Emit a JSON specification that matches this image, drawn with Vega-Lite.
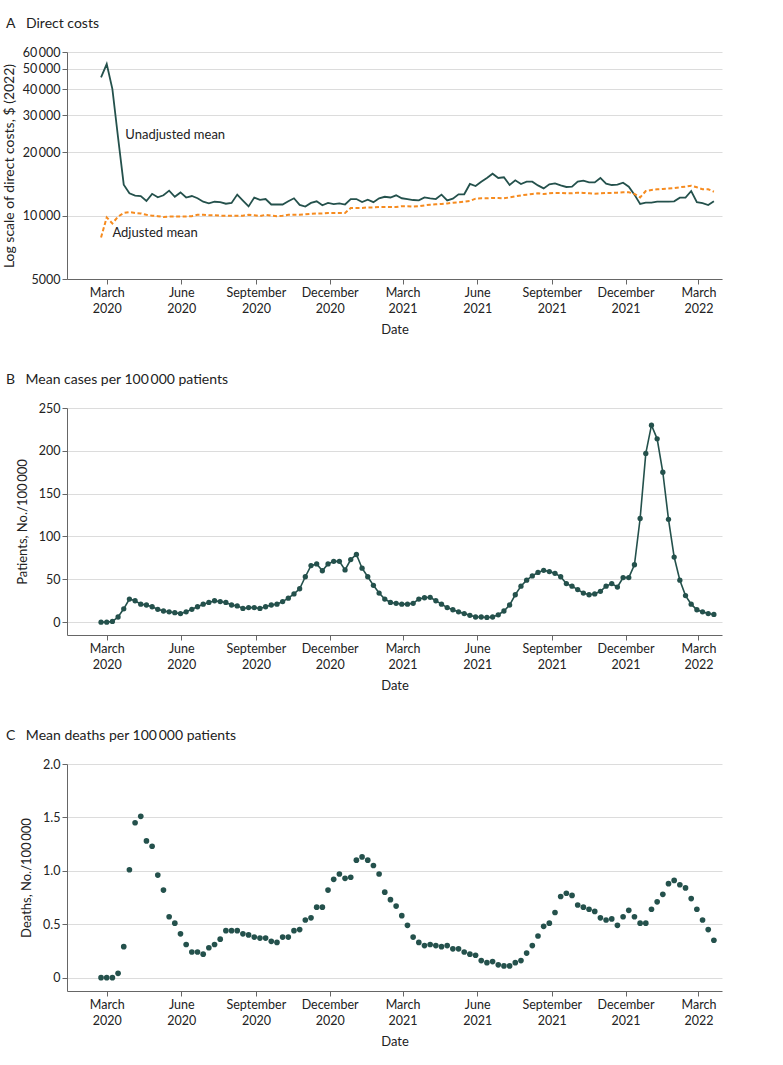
{
  "$schema": "https://vega.github.io/schema/vega-lite/v6.json",
  "padding": {"left": 2, "top": 17, "right": 5, "bottom": 5},
  "spacing": 36,
  "config": {
    "font": "Lato",
    "view": {"stroke": null},
    "axis": {"labelFont": "Lato", "titleFont": "Lato", "labelFontSize": 12.5, "titleFontSize": 13, "titleFontWeight": "normal", "labelColor": "#222222", "titleColor": "#222222", "domainColor": "#666666", "tickColor": "#666666", "gridColor": "#dcdcdc", "tickSize": 5},
    "title": {"anchor": "start", "frame": "group", "font": "Lato", "fontSize": 14, "fontWeight": "normal", "color": "#222222", "dx": -61, "offset": 15}
  },
  "data": {"values": [
    {"date":"2020-02-23","u":45500,"a":7880,"c":0,"d":0.00},
    {"date":"2020-03-01","u":52600,"a":9810,"c":0,"d":0.00},
    {"date":"2020-03-08","u":40000,"a":9190,"c":0.8,"d":0.00},
    {"date":"2020-03-15","u":23500,"a":9900,"c":6,"d":0.04},
    {"date":"2020-03-22","u":14040,"a":10300,"c":15.6,"d":0.29},
    {"date":"2020-03-29","u":12770,"a":10400,"c":27,"d":1.01},
    {"date":"2020-04-05","u":12450,"a":10300,"c":25,"d":1.45},
    {"date":"2020-04-12","u":12400,"a":10250,"c":21,"d":1.51},
    {"date":"2020-04-19","u":11740,"a":10100,"c":20,"d":1.28},
    {"date":"2020-04-26","u":12700,"a":10000,"c":18,"d":1.23},
    {"date":"2020-05-03","u":12220,"a":9950,"c":15,"d":0.96},
    {"date":"2020-05-10","u":12500,"a":9850,"c":13,"d":0.82},
    {"date":"2020-05-17","u":13150,"a":9900,"c":12,"d":0.57},
    {"date":"2020-05-24","u":12300,"a":9920,"c":11,"d":0.51},
    {"date":"2020-05-31","u":12900,"a":9920,"c":10,"d":0.41},
    {"date":"2020-06-07","u":12200,"a":9920,"c":12,"d":0.31},
    {"date":"2020-06-14","u":12400,"a":9950,"c":15,"d":0.24},
    {"date":"2020-06-21","u":12100,"a":10100,"c":18,"d":0.24},
    {"date":"2020-06-28","u":11650,"a":10100,"c":21,"d":0.22},
    {"date":"2020-07-05","u":11450,"a":10050,"c":23,"d":0.28},
    {"date":"2020-07-12","u":11650,"a":10050,"c":25,"d":0.31},
    {"date":"2020-07-19","u":11600,"a":10000,"c":24,"d":0.36},
    {"date":"2020-07-26","u":11400,"a":10000,"c":23,"d":0.44},
    {"date":"2020-08-02","u":11500,"a":10000,"c":20,"d":0.44},
    {"date":"2020-08-09","u":12600,"a":10000,"c":19,"d":0.44},
    {"date":"2020-08-16","u":11800,"a":10000,"c":16,"d":0.41},
    {"date":"2020-08-23","u":11070,"a":10100,"c":17,"d":0.40},
    {"date":"2020-08-30","u":12200,"a":10050,"c":17,"d":0.38},
    {"date":"2020-09-06","u":11900,"a":9950,"c":16,"d":0.37},
    {"date":"2020-09-13","u":12000,"a":10100,"c":18,"d":0.37},
    {"date":"2020-09-20","u":11300,"a":10000,"c":20,"d":0.34},
    {"date":"2020-09-27","u":11300,"a":9950,"c":21,"d":0.33},
    {"date":"2020-10-04","u":11300,"a":10000,"c":24,"d":0.38},
    {"date":"2020-10-11","u":11700,"a":10100,"c":28,"d":0.38},
    {"date":"2020-10-18","u":12100,"a":10100,"c":33,"d":0.44},
    {"date":"2020-10-25","u":11250,"a":10100,"c":39,"d":0.45},
    {"date":"2020-11-01","u":11050,"a":10150,"c":53,"d":0.54},
    {"date":"2020-11-08","u":11500,"a":10200,"c":66,"d":0.56},
    {"date":"2020-11-15","u":11700,"a":10250,"c":68,"d":0.66},
    {"date":"2020-11-22","u":11200,"a":10250,"c":60,"d":0.66},
    {"date":"2020-11-29","u":11500,"a":10300,"c":68,"d":0.82},
    {"date":"2020-12-06","u":11350,"a":10300,"c":71,"d":0.92},
    {"date":"2020-12-13","u":11450,"a":10300,"c":71,"d":0.97},
    {"date":"2020-12-20","u":11300,"a":10300,"c":61,"d":0.93},
    {"date":"2020-12-27","u":12000,"a":10870,"c":73,"d":0.94},
    {"date":"2021-01-03","u":12000,"a":10870,"c":79,"d":1.10},
    {"date":"2021-01-10","u":11600,"a":10870,"c":63,"d":1.13},
    {"date":"2021-01-17","u":11900,"a":10950,"c":53,"d":1.10},
    {"date":"2021-01-24","u":11600,"a":10950,"c":43,"d":1.05},
    {"date":"2021-01-31","u":12100,"a":11000,"c":34,"d":0.97},
    {"date":"2021-02-07","u":12300,"a":11000,"c":27,"d":0.80},
    {"date":"2021-02-14","u":12200,"a":11000,"c":23,"d":0.73},
    {"date":"2021-02-21","u":12500,"a":11000,"c":22,"d":0.67},
    {"date":"2021-02-28","u":12100,"a":11100,"c":21,"d":0.58},
    {"date":"2021-03-07","u":12000,"a":11100,"c":21,"d":0.49},
    {"date":"2021-03-14","u":11870,"a":11040,"c":22,"d":0.38},
    {"date":"2021-03-21","u":11820,"a":11080,"c":27,"d":0.33},
    {"date":"2021-03-28","u":12220,"a":11190,"c":28.5,"d":0.30},
    {"date":"2021-04-04","u":12090,"a":11280,"c":29,"d":0.31},
    {"date":"2021-04-11","u":12000,"a":11320,"c":25,"d":0.30},
    {"date":"2021-04-18","u":12590,"a":11370,"c":21,"d":0.29},
    {"date":"2021-04-25","u":11820,"a":11440,"c":17,"d":0.30},
    {"date":"2021-05-02","u":12040,"a":11530,"c":14.5,"d":0.27},
    {"date":"2021-05-09","u":12640,"a":11580,"c":12,"d":0.27},
    {"date":"2021-05-16","u":12640,"a":11660,"c":10,"d":0.24},
    {"date":"2021-05-23","u":14150,"a":11750,"c":8,"d":0.22},
    {"date":"2021-05-30","u":13840,"a":12050,"c":6,"d":0.21},
    {"date":"2021-06-06","u":14510,"a":12090,"c":6,"d":0.16},
    {"date":"2021-06-13","u":15110,"a":12090,"c":5.5,"d":0.14},
    {"date":"2021-06-20","u":15840,"a":12130,"c":6,"d":0.15},
    {"date":"2021-06-27","u":15110,"a":12130,"c":8.6,"d":0.12},
    {"date":"2021-07-04","u":15220,"a":12090,"c":13,"d":0.11},
    {"date":"2021-07-11","u":13990,"a":12220,"c":20,"d":0.11},
    {"date":"2021-07-18","u":14720,"a":12350,"c":32,"d":0.14},
    {"date":"2021-07-25","u":14150,"a":12490,"c":42,"d":0.16},
    {"date":"2021-08-01","u":14510,"a":12590,"c":49,"d":0.23},
    {"date":"2021-08-08","u":14510,"a":12680,"c":54,"d":0.30},
    {"date":"2021-08-15","u":13930,"a":12770,"c":58,"d":0.39},
    {"date":"2021-08-22","u":13480,"a":12680,"c":60.5,"d":0.48},
    {"date":"2021-08-29","u":14100,"a":12770,"c":59,"d":0.51},
    {"date":"2021-09-05","u":14240,"a":12820,"c":57,"d":0.61},
    {"date":"2021-09-12","u":13930,"a":12820,"c":53,"d":0.76},
    {"date":"2021-09-19","u":13690,"a":12770,"c":45,"d":0.79},
    {"date":"2021-09-26","u":13740,"a":12770,"c":42,"d":0.77},
    {"date":"2021-10-03","u":14510,"a":12870,"c":38,"d":0.68},
    {"date":"2021-10-10","u":14670,"a":12820,"c":34,"d":0.66},
    {"date":"2021-10-17","u":14400,"a":12770,"c":32,"d":0.64},
    {"date":"2021-10-24","u":14400,"a":12730,"c":33,"d":0.62},
    {"date":"2021-10-31","u":15110,"a":12770,"c":36,"d":0.56},
    {"date":"2021-11-07","u":14200,"a":12820,"c":42,"d":0.54},
    {"date":"2021-11-14","u":13990,"a":12820,"c":45,"d":0.55},
    {"date":"2021-11-21","u":14040,"a":12870,"c":41,"d":0.49},
    {"date":"2021-11-28","u":14350,"a":12920,"c":52,"d":0.57},
    {"date":"2021-12-05","u":13740,"a":12920,"c":52,"d":0.63},
    {"date":"2021-12-12","u":12590,"a":12680,"c":67,"d":0.57},
    {"date":"2021-12-19","u":11370,"a":12220,"c":121,"d":0.51},
    {"date":"2021-12-26","u":11530,"a":13100,"c":197,"d":0.51},
    {"date":"2022-01-02","u":11530,"a":13250,"c":230,"d":0.64},
    {"date":"2022-01-09","u":11660,"a":13350,"c":214,"d":0.71},
    {"date":"2022-01-16","u":11660,"a":13400,"c":175,"d":0.78},
    {"date":"2022-01-23","u":11660,"a":13450,"c":120,"d":0.88},
    {"date":"2022-01-30","u":11700,"a":13540,"c":76,"d":0.91},
    {"date":"2022-02-06","u":12180,"a":13650,"c":49,"d":0.87},
    {"date":"2022-02-13","u":12180,"a":13740,"c":31,"d":0.84},
    {"date":"2022-02-20","u":13100,"a":13890,"c":21,"d":0.74},
    {"date":"2022-02-27","u":11600,"a":13650,"c":14.5,"d":0.64},
    {"date":"2022-03-06","u":11480,"a":13350,"c":12,"d":0.54},
    {"date":"2022-03-13","u":11240,"a":13350,"c":10,"d":0.45},
    {"date":"2022-03-20","u":11700,"a":13000,"c":9,"d":0.35}
  ]},
  "vconcat": [
    {
      "title": {"text": "A\u2003Direct costs"},
      "width": 655,
      "height": 227,
      "encoding": {
        "x": {"field": "date", "type": "temporal",
          "scale": {"type": "utc", "domain": [{"year": 2020, "month": 1, "date": 12, "utc": true}, {"year": 2022, "month": 3, "date": 30, "utc": true}]},
          "axis": {"title": "Date", "grid": false, "labelPadding": 2, "titlePadding": 9, "labelLineHeight": 16,
            "values": [{"year":2020,"month":3,"date":1,"utc":true},{"year":2020,"month":6,"date":1,"utc":true},{"year":2020,"month":9,"date":1,"utc":true},{"year":2020,"month":12,"date":1,"utc":true},{"year":2021,"month":3,"date":1,"utc":true},{"year":2021,"month":6,"date":1,"utc":true},{"year":2021,"month":9,"date":1,"utc":true},{"year":2021,"month":12,"date":1,"utc":true},{"year":2022,"month":3,"date":1,"utc":true}],
            "labelExpr": "[utcFormat(datum.value, '%B'), utcFormat(datum.value, '%Y')]"}}
      },
      "layer": [
        {
          "mark": {"type": "line", "color": "#24514c", "strokeWidth": 1.8},
          "encoding": {
            "y": {"field": "u", "type": "quantitative",
              "scale": {"type": "log", "domain": [5000, 60000], "nice": false},
              "axis": {"title": "Log scale of direct costs, $ (2022)", "titleFontSize": 14, "grid": true, "titlePadding": 6, "labelPadding": 2,
                "values": [5000, 10000, 20000, 30000, 40000, 50000, 60000],
                "labelExpr": "datum.value >= 10000 ? replace(format(datum.value, ','), ',', '\u2009') : format(datum.value, 'd')"}}
          }
        },
        {
          "mark": {"type": "line", "color": "#f68b1f", "strokeWidth": 2, "strokeDash": [4, 2.5]},
          "encoding": {"y": {"field": "a", "type": "quantitative"}}
        },
        {
          "data": {"values": [
            {"date": "2020-03-24", "v": 24270, "t": "Unadjusted mean"},
            {"date": "2020-03-08", "v": 8238, "t": "Adjusted mean"}
          ]},
          "mark": {"type": "text", "align": "left", "baseline": "middle", "font": "Lato", "fontSize": 13, "color": "#222222"},
          "encoding": {
            "y": {"field": "v", "type": "quantitative"},
            "text": {"field": "t"}
          }
        }
      ]
    },
    {
      "title": {"text": "B\u2003Mean cases per 100\u2009000 patients"},
      "width": 655,
      "height": 227,
      "encoding": {
        "x": {"field": "date", "type": "temporal",
          "scale": {"type": "utc", "domain": [{"year": 2020, "month": 1, "date": 12, "utc": true}, {"year": 2022, "month": 3, "date": 30, "utc": true}]},
          "axis": {"title": "Date", "grid": false, "labelPadding": 2, "titlePadding": 9, "labelLineHeight": 16,
            "values": [{"year":2020,"month":3,"date":1,"utc":true},{"year":2020,"month":6,"date":1,"utc":true},{"year":2020,"month":9,"date":1,"utc":true},{"year":2020,"month":12,"date":1,"utc":true},{"year":2021,"month":3,"date":1,"utc":true},{"year":2021,"month":6,"date":1,"utc":true},{"year":2021,"month":9,"date":1,"utc":true},{"year":2021,"month":12,"date":1,"utc":true},{"year":2022,"month":3,"date":1,"utc":true}],
            "labelExpr": "[utcFormat(datum.value, '%B'), utcFormat(datum.value, '%Y')]"}},
        "y": {"field": "c", "type": "quantitative",
          "scale": {"domain": [-15, 250], "nice": false, "zero": false},
          "axis": {"title": "Patients, No./100\u2009000", "grid": true, "titlePadding": 9, "labelPadding": 2, "values": [0, 50, 100, 150, 200, 250]}}
      },
      "layer": [
        {"mark": {"type": "line", "color": "#24514c", "strokeWidth": 1.6}},
        {"mark": {"type": "point", "filled": true, "color": "#24514c", "opacity": 1, "size": 28}}
      ]
    },
    {
      "title": {"text": "C\u2003Mean deaths per 100\u2009000 patients"},
      "width": 655,
      "height": 227,
      "mark": {"type": "point", "filled": true, "color": "#24514c", "opacity": 1, "size": 32},
      "encoding": {
        "x": {"field": "date", "type": "temporal",
          "scale": {"type": "utc", "domain": [{"year": 2020, "month": 1, "date": 12, "utc": true}, {"year": 2022, "month": 3, "date": 30, "utc": true}]},
          "axis": {"title": "Date", "grid": false, "labelPadding": 2, "titlePadding": 9, "labelLineHeight": 16,
            "values": [{"year":2020,"month":3,"date":1,"utc":true},{"year":2020,"month":6,"date":1,"utc":true},{"year":2020,"month":9,"date":1,"utc":true},{"year":2020,"month":12,"date":1,"utc":true},{"year":2021,"month":3,"date":1,"utc":true},{"year":2021,"month":6,"date":1,"utc":true},{"year":2021,"month":9,"date":1,"utc":true},{"year":2021,"month":12,"date":1,"utc":true},{"year":2022,"month":3,"date":1,"utc":true}],
            "labelExpr": "[utcFormat(datum.value, '%B'), utcFormat(datum.value, '%Y')]"}},
        "y": {"field": "d", "type": "quantitative",
          "scale": {"domain": [-0.125, 2], "nice": false, "zero": false},
          "axis": {"title": "Deaths, No./100\u2009000", "grid": true, "titlePadding": 9, "labelPadding": 2, "values": [0, 0.5, 1, 1.5, 2],
            "labelExpr": "datum.value == 0 ? '0' : format(datum.value, '.1f')"}}
      }
    }
  ]
}
